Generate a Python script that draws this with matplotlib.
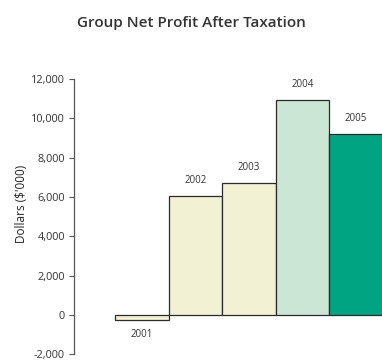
import matplotlib
matplotlib.use("Agg")
import matplotlib.pyplot as plt
import numpy as np

years = ["2001", "2002", "2003", "2004", "2005"]
profit = [-270, 6030, 6680, 10900, 9180]  # $'000
bar_colors = ["#F3F1D4", "#F3F1D4", "#F3F1D4", "#CCE6D5", "#00A482"]
yticks = [-2000, 0, 2000, 4000, 6000, 8000, 10000, 12000]

plt.rcParams['font.family'] = ['Open Sans', 'DejaVu Sans']

fig = plt.figure(figsize=(3.82, 3.60), dpi=100)
ax = fig.add_axes([0.1937, 0.016, 0.8063, 0.7650])

x = np.arange(len(years))
ax.bar(x, profit, width=1.0, align='edge', color=bar_colors,
       edgecolor="#2a2a2a", linewidth=0.9)

# year labels: above positive bars, below the negative one
for xi, val, yr in zip(x, profit, years):
    if val >= 0:
        ax.text(xi + 0.5, val + 520, yr, ha='center', va='bottom',
                fontsize=7, color="#333333")
    else:
        ax.text(xi + 0.5, val - 450, yr, ha='center', va='top',
                fontsize=7, color="#333333")

ax.set_xlim(-0.775, 4.99)
ax.set_ylim(-2000, 12000)
ax.set_xticks([])
ax.set_yticks(yticks)
ax.set_yticklabels([f"{v:,}" for v in yticks], fontsize=7.8, color="#333333")
ax.tick_params(axis='y', direction='out', length=3.5, width=0.8,
               color="#555555", pad=3)

for side in ['top', 'right', 'bottom']:
    ax.spines[side].set_visible(False)
ax.spines['left'].set_color("#555555")
ax.spines['left'].set_linewidth(0.9)

fig.text(0.057, 0.433, "Dollars ($'000)", rotation=90, ha='center',
         va='center', fontsize=8.5, color="#222222")
fig.text(0.5, 0.936, "Group Net Profit After Taxation", ha='center',
         va='center', fontsize=11, fontweight='semibold', color="#333333")

fig.savefig("out.png", dpi=100)
